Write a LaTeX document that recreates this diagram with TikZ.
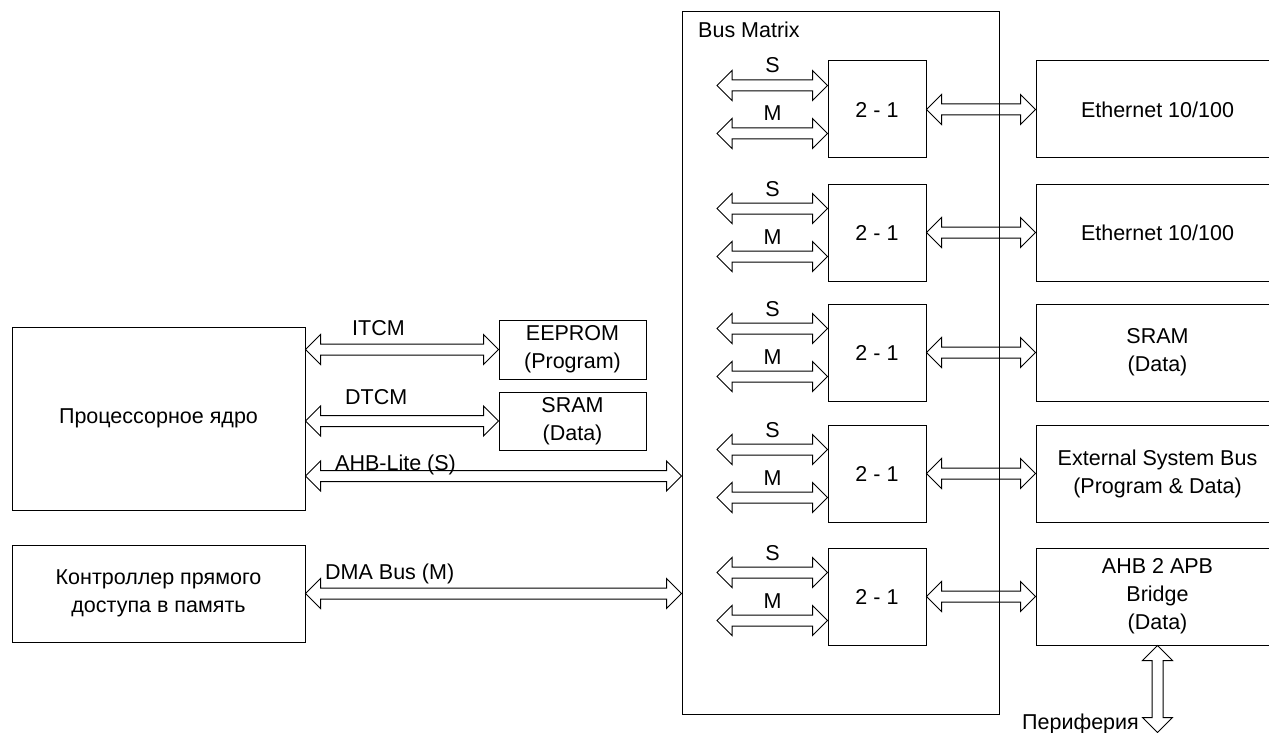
\documentclass[tikz,border=0pt]{standalone}
\usepackage{fontspec}
\setmainfont{Liberation Sans}
\usetikzlibrary{calc}

\tikzset{
  every node/.style={font=\fontsize{21.5}{28}\selectfont},
  blk/.style={draw, line width=1pt, rectangle, inner sep=0pt, align=center},
  lbl/.style={inner sep=0pt},
  % hollow double-headed bus arrow between two points
  bus/.style={draw, line width=1pt, line join=miter, to path={
     -- ($(\tikztostart)!15pt!(\tikztotarget)!15pt!90:(\tikztotarget)$)
     -- ($(\tikztostart)!15pt!(\tikztotarget)!5.5pt!90:(\tikztotarget)$)
     -- ($(\tikztotarget)!15pt!(\tikztostart)!5.5pt!-90:(\tikztostart)$)
     -- ($(\tikztotarget)!15pt!(\tikztostart)!15pt!-90:(\tikztostart)$)
     -- (\tikztotarget)
     -- ($(\tikztotarget)!15pt!(\tikztostart)!15pt!90:(\tikztostart)$)
     -- ($(\tikztotarget)!15pt!(\tikztostart)!5.5pt!90:(\tikztostart)$)
     -- ($(\tikztostart)!15pt!(\tikztotarget)!5.5pt!-90:(\tikztotarget)$)
     -- ($(\tikztostart)!15pt!(\tikztotarget)!15pt!-90:(\tikztotarget)$)
     -- cycle}}
}

\begin{document}
\begin{tikzpicture}[x=1pt, y=-1pt]
\useasboundingbox (0,0) rectangle (1269,733);

% core and DMA controller
\node[blk, minimum width=293pt, minimum height=183pt] (proc) at (158.5,418.5) {Процессорное ядро};
\node[blk, minimum width=293pt, minimum height=97pt] (dma) at (158.5,593.5) {Контроллер прямого\\доступа в память};

% tightly coupled memories
\node[blk, minimum width=147pt, minimum height=59pt] (eeprom) at (572.5,349.5) {EEPROM\\(Program)};
\node[blk, minimum width=147pt, minimum height=58pt] (tsram) at (572.5,421) {SRAM\\(Data)};

% bus matrix frame
\node[blk, minimum width=317pt, minimum height=702pt] (bm) at (840.5,363) {};
\node[lbl, anchor=base west] (bmlabel) at (698,38) {Bus Matrix};

% multiplexers with their S and M inputs
\foreach \i/\yc in {1/109.5, 2/232.5, 3/352.5, 4/473.5, 5/596.5} {
  \node[blk, minimum width=98pt, minimum height=97pt] (mux\i) at (877,\yc) {2 - 1};
  \coordinate (s\i) at (717,\yc-24);
  \coordinate (m\i) at (717,\yc+24);
  \coordinate (se\i) at (s\i -| mux\i.west);
  \coordinate (me\i) at (m\i -| mux\i.west);
  \draw[bus] (s\i) to (se\i);
  \draw[bus] (m\i) to (me\i);
  \node[lbl, anchor=base] (sl\i) at (772.5,\yc-36.5) {S};
  \node[lbl, anchor=base] (ml\i) at (772.5,\yc+11.5) {M};
}

% slaves on the right
\node[blk, minimum width=243pt, minimum height=97pt] (slv1) at (1157.5,109.5) {Ethernet 10/100};
\node[blk, minimum width=243pt, minimum height=97pt] (slv2) at (1157.5,232.5) {Ethernet 10/100};
\node[blk, minimum width=243pt, minimum height=97pt] (slv3) at (1157.5,352.5) {SRAM\\(Data)};
\node[blk, minimum width=243pt, minimum height=97pt] (slv4) at (1157.5,473.5) {External System Bus\\(Program \& Data)};
\node[blk, minimum width=243pt, minimum height=97pt] (slv5) at (1157.5,596.5) {AHB 2 APB\\Bridge\\(Data)};

\foreach \i in {1,...,5} {
  \draw[bus] (mux\i.east) to (slv\i.west);
}

% core buses
\coordinate (itcmL) at (eeprom.west -| proc.east);
\coordinate (dtcmL) at (tsram.west -| proc.east);
\coordinate (ahbL) at (proc.east |- 0,476);
\coordinate (ahbR) at (ahbL -| bm.west);
\coordinate (dmaR) at (dma.east -| bm.west);
\draw[bus] (itcmL) to (eeprom.west);
\draw[bus] (dtcmL) to (tsram.west);
\draw[bus] (ahbL) to (ahbR);
\draw[bus] (dma.east) to (dmaR);

\node[lbl, anchor=base west] (itcm) at (352,335.5) {ITCM};
\node[lbl, anchor=base west] (dtcm) at (345,404.5) {DTCM};
\node[lbl, anchor=base west] (ahb) at (335,470.5) {AHB-Lite (S)};
\node[lbl, anchor=base west] (dmab) at (325,579.5) {DMA Bus (M)};

% peripheral bus below the bridge
\coordinate (perEnd) at (slv5.south |- 0,732.5);
\draw[bus] (slv5.south) to (perEnd);
\node[lbl, anchor=base east] (per) at (1139,729.5) {Периферия};

\end{tikzpicture}
\end{document}
